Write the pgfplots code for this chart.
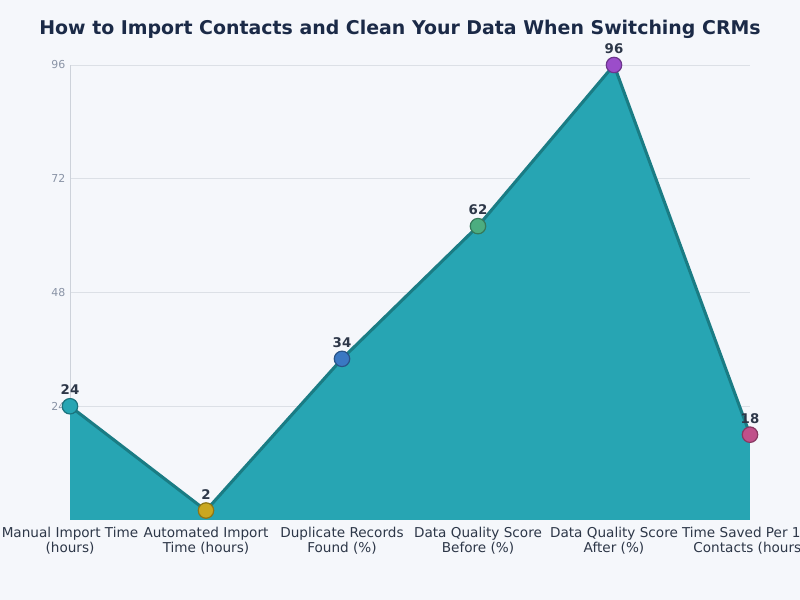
\documentclass[border=0pt]{standalone}
\usepackage{pgfplots}
\pgfplotsset{compat=1.18}
\usepackage{fontspec}
\setmainfont{DejaVu Sans}
\definecolor{bg}{HTML}{F5F7FB}
\definecolor{titlec}{HTML}{1B2A47}
\definecolor{labc}{HTML}{2D3748}
\definecolor{tickc}{HTML}{8A94A6}
\definecolor{gridc}{HTML}{DCE0E6}
\definecolor{axisc}{HTML}{CDD2DA}
\definecolor{areac}{HTML}{27A5B3}
\definecolor{linec}{HTML}{1A7C84}
\definecolor{m1}{HTML}{27A5B3}
\definecolor{m2}{HTML}{C9A720}
\definecolor{m3}{HTML}{3A78C3}
\definecolor{m4}{HTML}{4CAD80}
\definecolor{m5}{HTML}{9B4DCA}
\definecolor{m6}{HTML}{C0508A}
\begin{document}
\begin{tikzpicture}[x=1pt,y=1pt]
\fill[bg] (0,0) rectangle (600,450);
\useasboundingbox (0,0) rectangle (600,450);
\node[font=\bfseries\fontsize{14.2}{17}\selectfont, text=titlec] at (300,428) {How to Import Contacts and Clean Your Data When Switching CRMs};
\begin{axis}[
  at={(52.5pt,60pt)}, anchor=south west,
  scale only axis, width=510pt, height=341.25pt,
  xmin=0, xmax=5, ymin=0, ymax=96,
  clip=false,
  axis lines*=left,
  x axis line style={draw=none},
  y axis line style={draw=axisc, line width=0.6pt, -},
  major tick length=0pt,
  ytick={24,48,72,96},
  ymajorgrids, grid style={gridc, line width=0.6pt},
  xtick={0,1,2,3,4,5},
  xticklabels={Manual Import Time\\(hours), Automated Import\\Time (hours), Duplicate Records\\Found (\%), Data Quality Score\\Before (\%), Data Quality Score\\After (\%), Time Saved Per 100\\Contacts (hours)},
  xticklabel style={align=center, font=\fontsize{10.2}{11.5}\selectfont, text=labc, yshift=-1.5pt},
  yticklabel style={font=\fontsize{8.2}{9}\selectfont, text=tickc},
  /pgf/number format/assume math mode=true,
  mymark/.style={only marks, mark=*, mark size=5.8pt, mark options={line width=0.9pt}},
]
\addplot[fill=areac, draw=none] coordinates {(0,24) (1,2) (2,34) (3,62) (4,96) (5,18)} \closedcycle;
\addplot[linec, line width=2.3pt, line join=round] coordinates {(0,24) (1,2) (2,34) (3,62) (4,96) (5,18)};
\addplot[mymark, fill=m1, draw=m1!70!black] coordinates {(0,24)};
\addplot[mymark, fill=m2, draw=m2!70!black] coordinates {(1,2)};
\addplot[mymark, fill=m3, draw=m3!70!black] coordinates {(2,34)};
\addplot[mymark, fill=m4, draw=m4!70!black] coordinates {(3,62)};
\addplot[mymark, fill=m5, draw=m5!70!black] coordinates {(4,96)};
\addplot[mymark, fill=m6, draw=m6!70!black] coordinates {(5,18)};
\addplot[only marks, mark=none, point meta=y,
  nodes near coords,
  nodes near coords style={anchor=south, yshift=5pt, font=\bfseries\fontsize{10}{11}\selectfont, text=labc}]
  coordinates {(0,24) (1,2) (2,34) (3,62) (4,96) (5,18)};
\end{axis}
\end{tikzpicture}
\end{document}
